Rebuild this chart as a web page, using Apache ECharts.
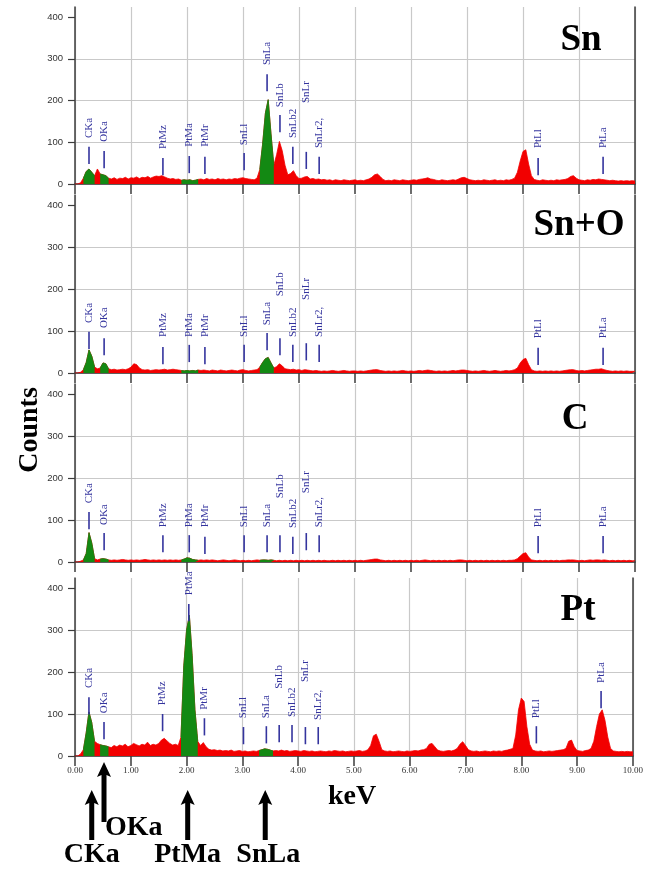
<!DOCTYPE html>
<html>
<head>
<meta charset="utf-8">
<script src="https://cdn.jsdelivr.net/npm/echarts/dist/echarts.min.js"></script>
<style>
html,body{margin:0;padding:0;background:#fff;}
#main{width:646px;height:869px;}
</style>
</head>
<body>
<div id="main"></div>
<script>
// ---------- DATA ----------
// energy channels (keV), 0.05 keV apart
const energy = [];
for (let i = 0; i <= 200; i++) energy.push(+(i * 0.05).toFixed(2));

const panelNames = ['Sn', 'Sn+O', 'C', 'Pt'];

const countsSn = [
  0,0,3,14,30,36,28,20,36,24,22,20,14,12,15,11,14,13,16,12,
  15,14,17,13,16,15,18,14,17,19,18,20,17,14,12,13,11,12,9,10,
  9,10,8,9,11,12,10,13,11,12,10,13,11,12,10,12,11,13,12,14,
  15,13,12,11,10,14,35,95,170,202,120,45,70,102,80,45,22,25,32,20,
  13,14,17,18,12,13,11,12,10,11,9,10,8,10,9,8,10,9,8,9,
  10,8,9,8,10,12,16,22,24,18,11,8,9,8,10,9,8,10,9,8,
  9,10,9,11,12,13,15,12,11,9,8,10,9,8,9,10,9,12,15,16,
  13,10,9,8,9,8,10,9,8,9,10,8,9,8,10,9,11,14,28,55,
  78,82,48,20,11,9,8,10,9,8,9,8,10,9,10,11,13,18,20,14,
  10,9,8,10,9,11,10,12,11,10,9,8,9,8,7,8,7,8,7,8,
  7
];
const countsSnO = [
  0,0,2,8,25,55,40,14,10,12,24,22,10,8,9,7,8,9,8,10,
  14,22,20,12,8,7,8,6,7,8,7,8,9,7,8,9,8,7,6,5,
  6,5,6,5,7,6,7,6,5,7,6,5,7,6,5,6,7,6,5,7,
  8,6,5,6,7,8,14,25,34,37,24,12,15,22,17,10,9,8,9,7,
  8,6,8,7,6,5,6,5,4,5,4,5,6,5,4,5,6,5,4,5,
  5,4,5,4,5,6,7,8,8,6,5,4,5,4,5,4,5,6,5,4,
  5,4,5,6,5,6,7,6,5,4,5,4,5,4,5,6,5,6,7,7,
  6,5,4,5,4,5,6,5,4,5,6,5,4,5,6,5,6,8,12,24,
  32,35,20,8,5,4,5,4,5,4,5,4,5,4,5,6,7,8,8,6,
  5,6,5,6,7,8,9,9,10,8,6,5,4,5,4,5,4,5,4,4,
  4
];
const countsC = [
  0,0,2,5,20,70,45,8,5,7,8,7,5,4,5,4,5,6,5,4,
  5,4,5,4,5,6,5,4,5,4,5,4,5,4,5,4,5,4,5,7,
  10,9,6,5,4,5,4,5,4,5,4,3,4,5,4,3,4,5,4,3,
  4,3,4,3,4,5,4,5,5,4,5,4,3,4,3,4,3,4,3,4,
  3,4,3,4,3,4,3,4,3,4,3,3,4,3,4,3,4,3,4,3,
  4,3,4,3,4,5,6,7,7,5,4,3,4,3,4,3,4,3,4,3,
  4,3,4,3,4,5,4,3,4,3,4,3,4,3,4,3,4,5,5,4,
  3,4,3,4,3,4,3,4,3,4,3,4,3,4,3,4,4,5,8,14,
  20,22,12,5,4,3,4,3,4,3,4,3,4,3,4,4,5,5,5,4,
  3,4,3,4,5,4,5,5,4,5,4,3,4,3,4,3,4,3,4,3,
  3
];
const countsPt = [
  0,0,5,15,55,105,80,35,30,27,25,24,22,20,25,22,26,24,28,22,
  25,30,27,24,28,26,33,25,28,26,30,38,42,36,30,26,28,25,45,215,
  300,335,240,110,35,25,32,22,16,14,15,13,14,12,13,12,14,11,12,13,
  11,12,10,11,12,11,13,15,17,16,14,12,13,12,14,12,13,11,12,13,
  12,11,13,12,11,12,10,11,12,11,10,12,11,13,12,11,12,10,11,12,
  11,12,13,11,12,15,25,48,52,35,15,12,11,12,10,11,12,11,10,12,
  11,12,13,12,14,15,18,28,30,22,14,12,11,12,13,12,14,18,28,34,
  25,15,12,11,12,10,11,12,11,10,12,11,12,11,13,14,16,18,50,110,
  138,130,70,28,14,12,11,12,10,11,12,11,12,13,14,15,18,35,38,22,
  13,12,11,13,14,18,35,70,100,110,85,45,18,12,11,10,11,10,11,10,
  10
];

// energy windows of the identified peaks (drawn green)
const roiRanges = [[0.15, 0.35], [0.45, 0.60], [1.90, 2.20], [3.30, 3.55]];

// peak marker names and energies (keV)
const markerNames = ['CKa','OKa','PtMz','PtMa','PtMr','SnLl','SnLa','SnLb','SnLb2','SnLr','SnLr2,','PtLl','PtLa'];
const markerKeV   = [0.25, 0.52, 1.57, 2.04, 2.32, 3.02, 3.43, 3.66, 3.89, 4.13, 4.36, 8.27, 9.43];
// top of each marker tick (counts) per panel
const markerTopSn  = [89, 79, 62, 67, 65, 74, 263, 165, 89, 77, 65, 62, 65];
const markerTopSnO = [98, 83, 62, 67, 62, 67, 95, 83, 67, 71, 67, 60, 60];
const markerTopC   = [119, 69, 64, 64, 60, 64, 64, 64, 60, 69, 64, 62, 62];
const markerTopPt  = [140, 81, 100, 362, 90, 69, 71, 74, 74, 69, 69, 71, 155];
// where each marker's label starts (counts) per panel
const labelBaseSn  = [110, 101, 84, 89, 89, 93, 285, 184, 110, 194, 86, 86, 86];
const labelBaseSnO = [119, 107, 86, 86, 86, 86, 114, 183, 86, 174, 86, 83, 83];
const labelBaseC   = [140, 88, 83, 83, 83, 83, 83, 152, 81, 164, 83, 83, 83];
const labelBasePt  = [162, 102, 121, 383, 110, 90, 90, 160, 93, 176, 86, 90, 174];

const yTicks = [0, 100, 200, 300, 400];
const xTicks = [0,1,2,3,4,5,6,7,8,9,10];

// annotation arrows under the bottom panel
const arrowLabels = ['CKa', 'OKa', 'PtMa', 'SnLa'];
const arrowKeV = [0.30, 0.52, 2.02, 3.41];

// ---------- CHART ----------
const panels = [
  {counts: countsSn,  tops: markerTopSn,  labs: labelBaseSn},
  {counts: countsSnO, tops: markerTopSnO, labs: labelBaseSnO},
  {counts: countsC,   tops: markerTopC,   labs: labelBaseC},
  {counts: countsPt,  tops: markerTopPt,  labs: labelBasePt}
];
const gridTops = [7, 195, 384, 578];
const gridHeights = [177, 178, 178, 178];
const Y_MAX = 424;

const RED = '#f20000', GREEN = '#138913', BLUE = '#34349e', AXIS = '#3c3c3c';

function inRoi(e) {
  return roiRanges.some(r => e >= r[0] - 1e-9 && e <= r[1] + 1e-9);
}

const grid = [], xAxis = [], yAxis = [], series = [];
panels.forEach((p, i) => {
  grid.push({left: 75, right: 11, top: gridTops[i], height: gridHeights[i]});
  xAxis.push({
    type: 'value', gridIndex: i, min: 0, max: 10, interval: 1,
    axisLine: {show: true, onZero: false, lineStyle: {color: AXIS, width: 1.5}},
    axisTick: {show: true, inside: false, length: 10, lineStyle: {color: AXIS, width: 1.5}},
    axisLabel: {show: i === 3, margin: 10, fontSize: 9, color: '#333', fontFamily: 'Liberation Serif',
      formatter: v => v.toFixed(2)},
    splitLine: {show: true, lineStyle: {color: '#c9c9c9', width: 1.2}}
  });
  yAxis.push({
    type: 'value', gridIndex: i, min: 0, max: Y_MAX, interval: 100,
    axisLine: {show: true, onZero: false, lineStyle: {color: AXIS, width: 1.5}},
    axisTick: {show: true, length: 7, customValues: yTicks, lineStyle: {color: AXIS, width: 1.2}},
    axisLabel: {show: true, margin: 12, fontSize: 9.5, color: '#333', fontFamily: 'Liberation Sans',
      customValues: yTicks},
    splitLine: {show: true, showMaxLine: false, lineStyle: {color: '#c9c9c9', width: 1.2}}
  });
  yAxis.push({
    type: 'value', gridIndex: i, min: 0, max: Y_MAX, position: 'right',
    axisLine: {show: true, onZero: false, lineStyle: {color: AXIS, width: 1.5}},
    axisTick: {show: false}, axisLabel: {show: false}, splitLine: {show: false}
  });
  const full = energy.map((e, k) => [e, p.counts[k]]);
  const green = energy.map((e, k) => [e, inRoi(e) ? p.counts[k] : null]);
  series.push({
    type: 'line', xAxisIndex: i, yAxisIndex: i * 2, data: full, showSymbol: false, symbol: 'none',
    lineStyle: {color: RED, width: 0.8}, areaStyle: {color: RED, opacity: 1}, z: 2, silent: true
  });
  series.push({
    type: 'line', xAxisIndex: i, yAxisIndex: i * 2, data: green, showSymbol: false, symbol: 'none',
    connectNulls: false,
    lineStyle: {color: GREEN, width: 0.8}, areaStyle: {color: GREEN, opacity: 1}, z: 3, silent: true
  });
  series.push({
    type: 'custom', xAxisIndex: i, yAxisIndex: i * 2, z: 5, silent: true,
    data: markerKeV.map((k, j) => [k, p.tops[j], p.labs[j]]),
    renderItem: function (params, api) {
      const x = api.value(0), top = api.value(1), lab = api.value(2);
      const pTop = api.coord([x, top]);
      const pBot = api.coord([x, top - 41]);
      const pLab = api.coord([x, lab]);
      return {
        type: 'group',
        children: [
          {type: 'line', shape: {x1: pTop[0], y1: pBot[1], x2: pTop[0], y2: pTop[1]},
           style: {stroke: BLUE, lineWidth: 1.6}},
          {type: 'text', x: pLab[0], y: pLab[1], rotation: Math.PI / 2,
           style: {text: markerNames[params.dataIndex], x: 0, y: 0, align: 'left', verticalAlign: 'middle',
             fill: BLUE, font: '11px "Liberation Serif"'}}
        ]
      };
    }
  });
});

const chart = echarts.init(document.getElementById('main'), null, {renderer: 'canvas'});
const titleFont = 'bold 37px "Liberation Serif"';
const bigFont = 'bold 28px "Liberation Serif"';
chart.setOption({
  animation: false,
  backgroundColor: '#fff',
  grid, xAxis, yAxis, series
});

const titlePos = [[581, 40], [579, 225], [575, 419], [578, 610]];
const graphic = [];
panelNames.forEach((n, i) => {
  graphic.push({type: 'text', x: titlePos[i][0], y: titlePos[i][1], z: 10,
    style: {text: n, font: titleFont, fill: '#000', align: 'center', verticalAlign: 'middle',
      textAlign: 'center', textVerticalAlign: 'middle'}});
});
graphic.push({type: 'text', x: 30, y: 430, rotation: Math.PI / 2, z: 10,
  style: {text: 'Counts', font: bigFont, fill: '#000', align: 'center', verticalAlign: 'middle',
    textAlign: 'center', textVerticalAlign: 'middle'}});
graphic.push({type: 'text', x: 352, y: 797, z: 10,
  style: {text: 'keV', font: bigFont, fill: '#000', align: 'center', verticalAlign: 'middle',
    textAlign: 'center', textVerticalAlign: 'middle'}});

const arrowTip = [790, 762, 790, 790];
const arrowEnd = [840, 822, 840, 840];
arrowKeV.forEach((k, j) => {
  const x = chart.convertToPixel({xAxisIndex: 3}, k);
  const tip = arrowTip[j], end = arrowEnd[j];
  graphic.push({type: 'polygon', z: 10,
    shape: {points: [[x, tip], [x + 7, tip + 15], [x + 2.5, tip + 13], [x + 2.5, end], [x - 2.5, end],
      [x - 2.5, tip + 13], [x - 7, tip + 15]]},
    style: {fill: '#000'}});
  let lx = x, ly = 855, align = 'center';
  if (j === 1) { lx = x + 1; ly = 828; align = 'left'; }
  if (j === 3) { lx = x + 3; }
  graphic.push({type: 'text', x: lx, y: ly, z: 10,
    style: {text: arrowLabels[j], font: bigFont, fill: '#000', align: align, verticalAlign: 'middle',
      textAlign: align, textVerticalAlign: 'middle'}});
});
chart.setOption({graphic});
</script>
</body>
</html>
